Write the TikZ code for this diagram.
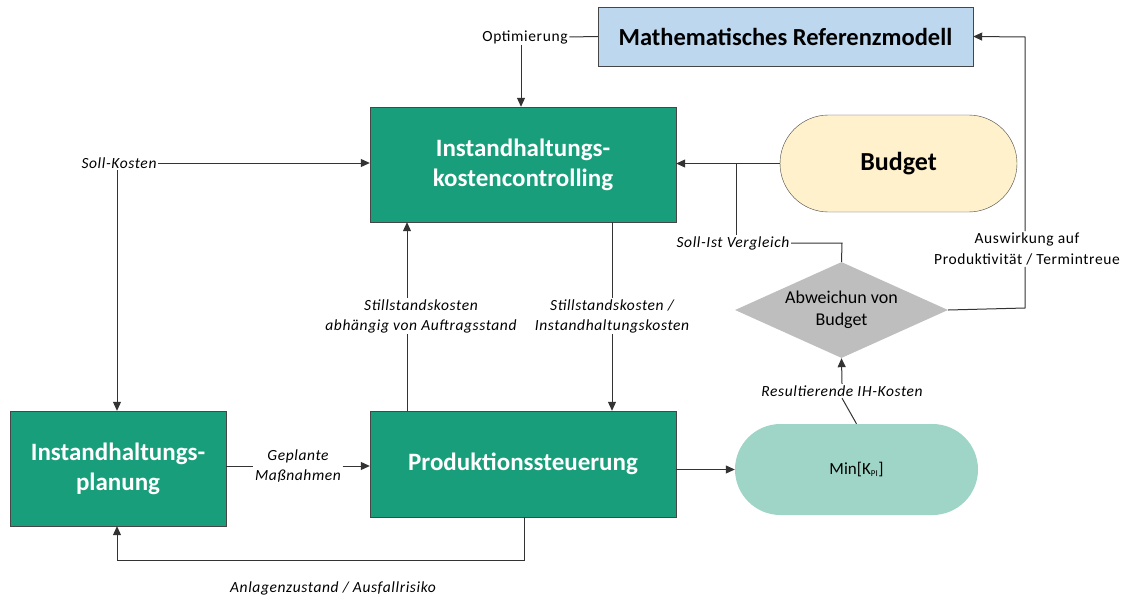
\documentclass[tikz,border=0pt]{standalone}
\usepackage{fontspec}
\setmainfont{Carlito}
\newfontfamily\labelfont[LetterSpace=4]{Carlito}
\usetikzlibrary{shapes.geometric,shapes.misc,arrows.meta}
\definecolor{ihgreen}{RGB}{24,158,122}
\definecolor{refblue}{RGB}{189,215,238}
\definecolor{budgetyellow}{RGB}{255,241,204}
\definecolor{mingreen}{RGB}{158,213,198}
\definecolor{diagray}{RGB}{190,190,190}
\definecolor{edgegray}{RGB}{70,70,70}
\begin{document}
\begin{tikzpicture}[x=1pt,y=-1pt,
  greenbox/.style={draw=edgegray,fill=ihgreen,text=white,font=\fontsize{25}{30}\selectfont\bfseries,align=center,inner sep=0pt},
  lbl/.style={fill=white,font=\labelfont\fontsize{15.5}{20}\selectfont\itshape,align=center,inner sep=1.5pt},
  uplbl/.style={fill=white,font=\labelfont\fontsize{15.5}{21}\selectfont,align=center,inner sep=1.5pt},
  conn/.style={draw=black!80,line width=1pt},
  arr/.style={conn,-{Triangle[length=9pt,width=8pt]}}
]
\useasboundingbox (0,0) rectangle (1139,599);

% main blocks
\node[draw=edgegray,fill=refblue,minimum width=375pt,minimum height=59pt,inner sep=0pt,
      font=\fontsize{24.5}{28}\selectfont\bfseries] (ref) at (785.5,36.5) {Mathematisches Referenzmodell};
\node[greenbox,minimum width=306pt,minimum height=115pt] (ikc) at (523,164.5) {Instandhaltungs-\\kostencontrolling};
\node[greenbox,minimum width=306pt,minimum height=106pt] (prod) at (523,464) {Produktionssteuerung};
\node[greenbox,minimum width=216pt,minimum height=115pt] (plan) at (118,468.5) {Instandhaltungs-\\planung};
\node[draw=edgegray,fill=budgetyellow,rounded rectangle,minimum width=237pt,minimum height=97pt,inner sep=0pt,
      font=\fontsize{26}{30}\selectfont\bfseries] (budget) at (898.5,163.5) {Budget};
\node[diamond,fill=diagray,minimum width=213pt,minimum height=96pt,inner sep=0pt,aspect=2.2,
      font=\fontsize{18}{22}\selectfont,align=center] (dia) at (841.5,310) {Abweichun von\\Budget};
\node[fill=mingreen,rounded rectangle,minimum width=243pt,minimum height=91pt,inner sep=0pt,
      font=\fontsize{17}{20}\selectfont] (min) at (856.5,469.5) {Min[K\textsubscript{\fontsize{9}{10}\selectfont PI}]};

% labels sitting on connectors
\node[uplbl] (opt) at (525,37) {Optimierung};
\node[lbl] (soll) at (119,163) {Soll-Kosten};
\node[lbl] (sist) at (733,243) {Soll-Ist Vergleich};
\node[uplbl] (ausw) at (1027,249) {Auswirkung auf\\Produktivität / Termintreue};
\node[lbl] (still1) at (421,316) {Stillstandskosten\\abhängig von Auftragsstand};
\node[lbl] (still2) at (612,316) {Stillstandskosten /\\Instandhaltungskosten};
\node[lbl] (gepl) at (298,466) {Geplante\\Maßnahmen};
\node[lbl] (res) at (842,391) {Resultierende IH-Kosten};
\node[lbl] (anl) at (333,588) {Anlagenzustand / Ausfallrisiko};

\coordinate (cOpt) at (521,37);
\coordinate (cAusw) at (1025,308);
\coordinate (cSist) at (842,243);
\coordinate (cBud) at (736,163);
\coordinate (cAnl) at (524,560);

% connectors
\draw[conn] (ref.west) -- (opt.east);
\draw[arr] (opt.south -| cOpt) -- (cOpt |- ikc.north);
\draw[arr] (budget.west) -- (ikc.east |- budget.west);
\draw[conn] (dia.north) -- (cSist) -- (sist.east);
\draw[conn] (sist.north -| cBud) -- (cBud);
\draw[conn] (dia.east) -- (cAusw) -- (ausw.south -| cAusw);
\draw[arr] (ausw.north -| cAusw) -- (1025,37) -- (ref.east);
\draw[arr] (soll.east) -- (ikc.west |- soll.east);
\draw[arr] (soll.south -| 117,0) -- (117,0 |- plan.north);
\draw[conn] (ikc.south -| still2) -- (still2.north);
\draw[arr] (still2.south) -- (prod.north -| still2);
\draw[conn] (prod.north -| 407,0) -- (407,0 |- still1.south);
\draw[arr] (407,0 |- still1.north) -- (407,0 |- ikc.south);
\draw[conn] (plan.east |- gepl) -- (gepl.west);
\draw[arr] (gepl.east) -- (prod.west |- gepl);
\draw[arr] (prod.south -| cAnl) -- (cAnl) -- (117,560) -- (117,0 |- plan.south);
\draw[arr] (prod.east |- min.west) -- (min.west);
\draw[conn] (min.north) -- (res.south);
\draw[arr] (res.north) -- (dia.south);
\end{tikzpicture}
\end{document}
